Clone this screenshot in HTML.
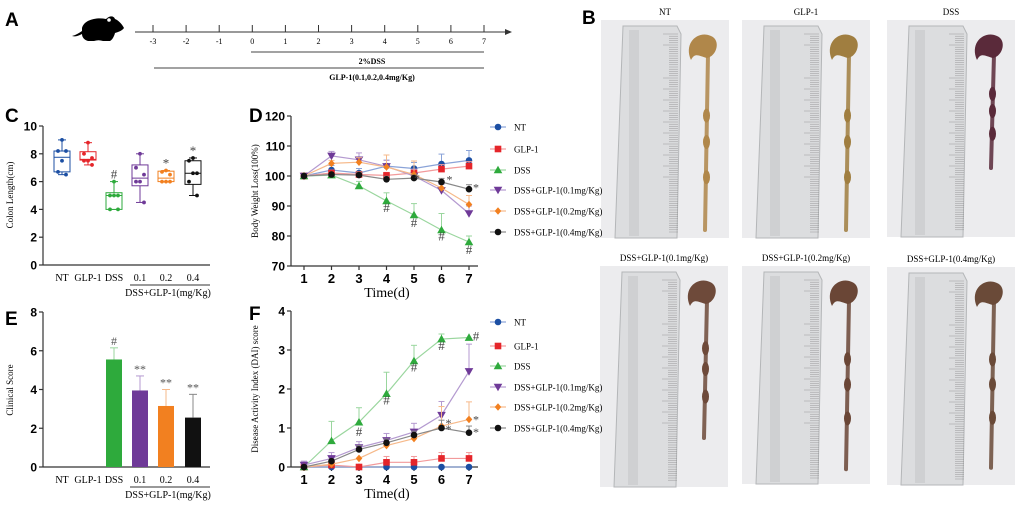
<!DOCTYPE html>
<html><head><meta charset="utf-8"><style>
body{margin:0;background:#fff;width:1020px;height:506px;overflow:hidden}
svg{position:absolute;left:0;top:0}
text{font-family:"Liberation Serif",serif}
.b{font-family:"Liberation Sans",sans-serif;font-weight:bold}
</style></head><body>
<svg id="s" width="1020" height="506" viewBox="0 0 1020 506"></svg>
<script>
// ---- data ----
const cCats=["NT","GLP-1","DSS","0.1","0.2","0.4"];
const cMin=[6.5,7.2,4,4.5,6,5];
const cQ1=[6.7,7.55,4,5.7,6,5.8];
const cMed=[7.75,7.6,5,6.25,6.25,6.6];
const cQ3=[8.2,8.15,5.2,7.2,6.75,7.5];
const cMax=[9,8.8,6,8,6.8,7.7];
const cPts=[[9,8.2,8.2,7.5,6.7,6.5],[8.8,8,7.7,7.5,7.5,7.2],[6,5,5,5,4,4],[8,7,6.5,6,6,4.5],[6.8,6.7,6.5,6,6,6],[7.7,7.5,6.6,6.6,6,5]];
const cSig=["","","#","","*","*"];
const eVals=[0,0,5.55,3.95,3.15,2.55];
const eErr=[0,0,0.6,0.75,0.85,1.2];
const eSig=["","","#","**","**","**"];
const days=[1,2,3,4,5,6,7];
const seriesNames=["NT","GLP-1","DSS","DSS+GLP-1(0.1mg/Kg)","DSS+GLP-1(0.2mg/Kg)","DSS+GLP-1(0.4mg/Kg)"];
const dNT=[100,102,101,103.3,102.5,104,105.2];
const dGLP=[100,101,100.5,100.2,101,102.3,103.3];
const dDSS=[100,100.3,96.7,91.7,87,82,78];
const d01=[100,106.7,105.4,103.2,100,95.2,87.5];
const d02=[100,104.2,104.6,103,100.5,96,90.5];
const d04=[100,100.5,100.3,98.9,99.3,98,95.6];
const dErr=[[0,1.5,1.5,2,2,3.3,3.3],[0,1,1,1,1,1.5,1.5],[0,0.5,1.5,2.7,3.8,5.5,2],[0,1.5,2.3,2,2.3,2,2.5],[0,1,1.5,4,4.5,2,3],[0,0.5,1,1,1,1.2,1.5]];
const fNT=[0,0,0,0,0,0,0];
const fGLP=[0,0.05,0,0.12,0.12,0.22,0.22];
const fDSS=[0,0.67,1.15,1.88,2.72,3.28,3.32];
const f01=[0.05,0.22,0.5,0.68,0.9,1.33,2.45];
const f02=[0,0.07,0.22,0.55,0.73,1.05,1.22];
const f04=[0,0.15,0.45,0.62,0.82,1.0,0.88];
const fErr=[[0,0,0,0,0,0,0],[0,0.05,0,0.15,0.15,0.15,0.15],[0,0.5,0.37,0.55,0.4,0.13,0],[0.1,0.15,0.15,0.18,0.22,0.35,0.7],[0,0.05,0,0,0,0.5,0.45],[0,0.05,0.1,0.1,0.1,0.2,0.17]];
const colors=["#1c4fa3","#e5252a","#2eaa3c","#6f3a98","#f28020","#111"];
const lineCols=["#8aa3d8","#f29a9b","#9ad69e","#b49ad0","#f6b98a","#888"];
const markers=["circle","square","tri","tri-down","diamond","circle"];

const S=document.getElementById('s');const NS="http://www.w3.org/2000/svg";
function el(t,a,p){const e=document.createElementNS(NS,t);for(const k in a)e.setAttribute(k,a[k]);(p||S).appendChild(e);return e;}
function tx(x,y,s,a,p){const e=el('text',Object.assign({x:x,y:y},a),p);e.textContent=s;return e;}
function g(name){const e=el('g',{});return e;}

// panel letters
[["A",5,26],["B",582,24],["C",5,122],["D",249,122],["E",5,325],["F",249,320]].forEach(l=>{const t=tx(l[1],l[2],l[0],{class:'b','font-size':19},S);});

// ---- Panel A ----
const A=g('timeline-schematic');
const mouse=el('path',{d:"M82,28 C84,20 96,17 106,19 C110,15 114,16 115,19 C118,20 122,24 124,28 C122,31 118,32 115,33 C114,37 112,40 110,41 L103,41 C100,40 97,40 94,41 L88,41 C84,40 82,37 82,34 C78,36 75,37 72,36 C76,35 79,33 82,31 Z",fill:'#000'},A);

el('circle',{cx:109,cy:20,r:1.8,fill:'#fff'},A);
el('line',{x1:135,y1:32,x2:505,y2:32,stroke:'#333','stroke-width':1},A);
el('path',{d:"M505,29 L512,32 L505,35 Z",fill:'#333'},A);
for(let d=-3;d<=7;d++){const x=153+(d+3)*33.1;el('line',{x1:x,y1:25,x2:x,y2:32,stroke:'#333'},A);tx(x,44,String(d),{'font-size':8,'text-anchor':'middle'},A);}
el('line',{x1:251,y1:52,x2:484,y2:52,stroke:'#444','stroke-width':1},A);
tx(372,64,"2%DSS",{'font-size':8,'font-weight':'bold','text-anchor':'middle'},A);
el('line',{x1:154,y1:68,x2:484,y2:68,stroke:'#444','stroke-width':1},A);
tx(372,80,"GLP-1(0.1,0.2,0.4mg/Kg)",{'font-size':8,'font-weight':'bold','text-anchor':'middle'},A);

// ---- Panel B photos ----
const photos=[["NT",601,20,238,"#b0874a",8.5],["GLP-1",742,20,238,"#a07e40",8.5],["DSS",887,20,237,"#5a2a3a",5.5],
["DSS+GLP-1(0.1mg/Kg)",600,266,487,"#6e4a3a",6.5],["DSS+GLP-1(0.2mg/Kg)",742,266,484,"#6a4636",7.8],["DSS+GLP-1(0.4mg/Kg)",887,267,485,"#6a4a38",7.7]];
photos.forEach((p,i)=>{const G=g('colon-photo-'+i);const [lab,x,y,y2,col,len]=p;const w=128,h=y2-y;
tx(x+w/2,y-5,lab,{'font-size':9,'text-anchor':'middle'},G);
el('rect',{x:x,y:y,width:w,height:h,fill:'#ececee'},G);
el('path',{d:`M${x+22},${y+6} L${x+76},${y+6} L${x+80},${y+14} L${x+76},${y+h} L${x+14},${y+h} Z`,fill:'#dcdddf',stroke:'#b4b6b8'},G);
el('rect',{x:x+28,y:y+10,width:10,height:h-12,fill:'#cfd0d2'},G);
for(let t=0;t<h-20;t+=2.2){el('line',{x1:x+68+(t%11<1?-6:0),y1:y+14+t,x2:x+77,y2:y+14+t,stroke:'#888','stroke-width':0.4},G);}
const cx=x+104,top=y+14,bot=y+Math.min(h-8,16+len*24);
el('path',{d:`M${cx-14},${top+26} C${cx-22},${top+8} ${cx-6},${top-4} ${cx+6},${top+2} C${cx+16},${top+6} ${cx+12},${top+22} ${cx+2},${top+24} C${cx-6},${top+22} ${cx-10},${top+18} ${cx-14},${top+26} Z`,fill:col},G);
el('line',{x1:cx+3,y1:top+20,x2:cx,y2:bot,stroke:col,'stroke-width':4,'stroke-linecap':'round',opacity:0.85},G);
[0.35,0.5,0.7].forEach(f=>el('ellipse',{cx:cx+1.5,cy:top+20+(bot-top-20)*f,rx:3.5,ry:7,fill:col},G));
});

// ---- helpers ----
function yAxis(G,x,yb,yt,vmin,vmax,ticks,fs){el('line',{x1:x,y1:yb,x2:x,y2:yt,stroke:'#333','stroke-width':1.2},G);
ticks.forEach(v=>{const y=yb-(v-vmin)/(vmax-vmin)*(yb-yt);el('line',{x1:x-4,y1:y,x2:x,y2:y,stroke:'#333','stroke-width':1.2},G);tx(x-6,y+4.5,String(v),{class:'b','font-size':fs,'text-anchor':'end'},G);});}
function marker(G,type,x,y,c,r){if(type=='circle')el('circle',{cx:x,cy:y,r:r,fill:c},G);
else if(type=='square')el('rect',{x:x-r,y:y-r,width:2*r,height:2*r,fill:c},G);
else if(type=='tri')el('path',{d:`M${x},${y-r-1} L${x+r+1},${y+r} L${x-r-1},${y+r}Z`,fill:c},G);
else if(type=='tri-down')el('path',{d:`M${x},${y+r+1} L${x+r+1},${y-r} L${x-r-1},${y-r}Z`,fill:c},G);
else el('path',{d:`M${x},${y-r-0.5} L${x+r},${y} L${x},${y+r+0.5} L${x-r},${y}Z`,fill:c},G);}
function catAxis(G,xs,yb,labY){cCats.forEach((c,i)=>tx(xs[i],labY,c,{'font-size':10,'text-anchor':'middle'},G));
el('line',{x1:130,y1:labY+4,x2:210,y2:labY+4,stroke:'#333'},G);tx(168,labY+15,"DSS+GLP-1(mg/Kg)",{'font-size':10,'text-anchor':'middle'},G);}
const catX=[62,88,114,140,166,193];
const cColors=["#1c4fa3","#e5252a","#2eaa3c","#6f3a98","#f28020","#111"];

// ---- Panel C ----
(function(){const G=g('colon-length-boxplot');const yb=265,yt=126;const Y=v=>yb-v/10*(yb-yt);
yAxis(G,43,yb,yt,0,10,[0,2,4,6,8,10],12);el('line',{x1:43,y1:yb,x2:210,y2:yb,stroke:'#333','stroke-width':1.2},G);
tx(13,195,"Colon Length(cm)",{'font-size':9,'text-anchor':'middle',transform:'rotate(-90 13 195)'},G);
cCats.forEach((c,i)=>{const x=catX[i],col=cColors[i],bg=g('box-'+c);G.appendChild(bg);
el('line',{x1:x,y1:Y(cMin[i]),x2:x,y2:Y(cMax[i]),stroke:col},bg);
el('line',{x1:x-4,y1:Y(cMin[i]),x2:x+4,y2:Y(cMin[i]),stroke:col},bg);el('line',{x1:x-4,y1:Y(cMax[i]),x2:x+4,y2:Y(cMax[i]),stroke:col},bg);
el('rect',{x:x-8,y:Y(cQ3[i]),width:16,height:Math.max(1,Y(cQ1[i])-Y(cQ3[i])),fill:'#fff',stroke:col},bg);
el('line',{x1:x-8,y1:Y(cMed[i]),x2:x+8,y2:Y(cMed[i]),stroke:col},bg);
const offs=[0,-4,4,0,-4,4];cPts[i].forEach((v,j)=>el('circle',{cx:x+offs[j],cy:Y(v),r:1.9,fill:col},bg));
if(cSig[i])tx(x,Y(cMax[i])-3,cSig[i],{'font-size':13,'text-anchor':'middle',fill:'#444'},bg);});
catAxis(G,catX,yb,281);})();

// ---- Panel E ----
(function(){const G=g('clinical-score-bar-chart');const yb=467,yt=312;const Y=v=>yb-v/8*(yb-yt);
yAxis(G,43,yb,yt,0,8,[0,2,4,6,8],12);el('line',{x1:43,y1:yb,x2:210,y2:yb,stroke:'#333','stroke-width':1.2},G);
tx(13,390,"Clinical Score",{'font-size':9,'text-anchor':'middle',transform:'rotate(-90 13 390)'},G);
cCats.forEach((c,i)=>{if(!eVals[i])return;const x=catX[i],col=cColors[i];const b=el('rect',{x:x-8,y:Y(eVals[i]),width:16,height:yb-Y(eVals[i]),fill:col},G);

el('line',{x1:x,y1:Y(eVals[i]),x2:x,y2:Y(eVals[i]+eErr[i]),stroke:lineCols[i]},G);el('line',{x1:x-4,y1:Y(eVals[i]+eErr[i]),x2:x+4,y2:Y(eVals[i]+eErr[i]),stroke:lineCols[i]},G);
tx(x,Y(eVals[i]+eErr[i])-3,eSig[i],{'font-size':12,'text-anchor':'middle',fill:'#555'},G);});
catAxis(G,catX,yb,483);})();

// ---- line charts ----
function lineChart(name,yb,yt,vmin,vmax,ticks,series,errs,ytitle,sigs,legY){const G=g(name);const X=d=>304+(d-1)*27.5;const Y=v=>yb-(v-vmin)/(vmax-vmin)*(yb-yt);
yAxis(G,291,yb,yt,vmin,vmax,ticks,12);el('line',{x1:291,y1:yb,x2:478,y2:yb,stroke:'#333','stroke-width':1.2},G);
days.forEach(d=>{el('line',{x1:X(d),y1:yb,x2:X(d),y2:yb+4,stroke:'#333','stroke-width':1.2},G);tx(X(d),yb+17,String(d),{class:'b','font-size':13,'text-anchor':'middle'},G);});
tx(387,yb+31,"Time(d)",{'font-size':14,'text-anchor':'middle'},G);
const my=(yb+yt)/2;tx(258,my,ytitle,{'font-size':9,'text-anchor':'middle',transform:`rotate(-90 258 ${my})`},G);
series.forEach((s,k)=>{const sg=g('series-'+seriesNames[k]);G.appendChild(sg);
s.forEach((v,i)=>{if(errs[k][i]){const ye=Y(v+errs[k][i]);el('line',{x1:X(days[i]),y1:Y(v),x2:X(days[i]),y2:ye,stroke:lineCols[k]},sg);el('line',{x1:X(days[i])-3,y1:ye,x2:X(days[i])+3,y2:ye,stroke:lineCols[k]},sg);}});
el('polyline',{points:s.map((v,i)=>X(days[i])+','+Y(v)).join(' '),fill:'none',stroke:lineCols[k],'stroke-width':1.2},sg);
s.forEach((v,i)=>marker(sg,markers[k],X(days[i]),Y(v),colors[k],3.3));});
sigs.forEach(s=>tx(X(s[0])+s[2],Y(s[1]),s[3],{'font-size':s[3]=='#'?13:12,'text-anchor':'middle',fill:'#444'},G));
seriesNames.forEach((n,k)=>{const lg=g('legend-entry-'+k);G.appendChild(lg);const y=legY[k];
el('line',{x1:490,y1:y,x2:506,y2:y,stroke:lineCols[k],'stroke-width':1.2},lg);marker(lg,markers[k],498,y,colors[k],3.3);tx(514,y+3.5,n,{'font-size':9},lg);});}
lineChart('body-weight-line-chart',266,116,70,120,[70,80,90,100,110,120],[dNT,dGLP,dDSS,d01,d02,d04],dErr,"Body Weight Loss(100%)",
[[4,88,0,'#'],[5,83,0,'#'],[6,78.5,0,'#'],[7,74,0,'#'],[5,98,3,'*'],[6,97.5,8,'*'],[7,94.8,7,'*']],[127,149,170,190,211,232]);
lineChart('dai-score-line-chart',467,311,0,4,[0,1,2,3,4],[fNT,fGLP,fDSS,f01,f02,f04],fErr,"Disease Activity Index (DAI) score",
[[3,0.8,0,'#'],[4,1.6,0,'#'],[5,2.45,0,'#'],[6,3.0,0,'#'],[7,3.25,7,'#'],[6,1.02,7,'*'],[6,0.87,7,'*'],[7,1.12,7,'*'],[7,0.8,7,'*']],[322,346,366,387,407,428]);
</script>
</body></html>
